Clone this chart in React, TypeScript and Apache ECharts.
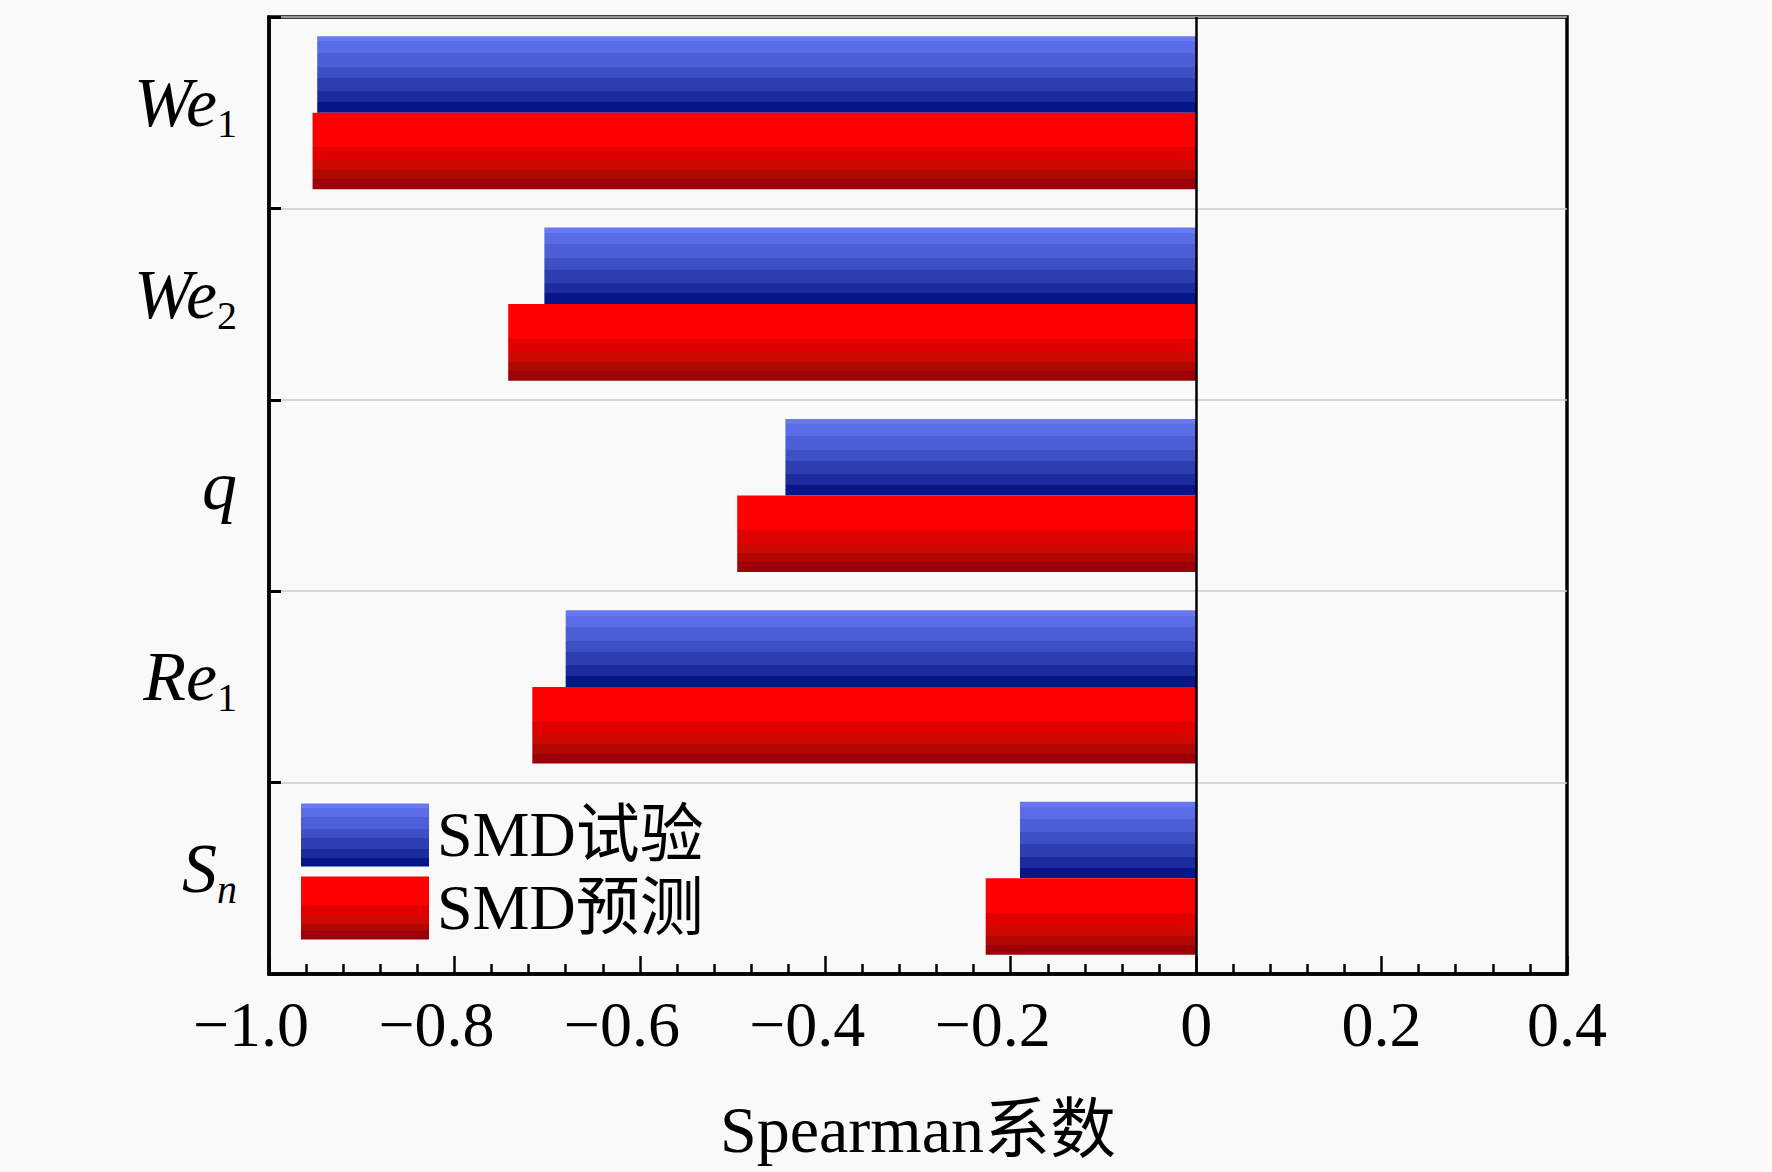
import React, { useEffect, useRef } from "react";
import * as echarts from "echarts";

const categories = ["We1", "We2", "q", "Re1", "Sn"];
const testValues = [-0.948, -0.703, -0.443, -0.68, -0.19];
const predValues = [-0.953, -0.742, -0.495, -0.716, -0.227];
const seriesNames = ["SMD试验", "SMD预测"];
const axisName = "Spearman系数";

const labelRich: Record<string, string> = {
  We1: "{i|We}{s|1}",
  We2: "{i|We}{s|2}",
  q: "{i|q}",
  Re1: "{i|Re}{s|1}",
  Sn: "{i|S}{si|n}",
};

const FONT = "'Liberation Serif', 'Times New Roman', 'Noto Sans CJK SC', serif";

function stepGradient(stops: [number, number, string][]) {
  const colorStops: { offset: number; color: string }[] = [];
  stops.forEach(([a, b, c]) => {
    colorStops.push({ offset: a, color: c });
    colorStops.push({ offset: b, color: c });
  });
  return { type: "linear", x: 0, y: 0, x2: 0, y2: 1, colorStops };
}

const blueGrad = stepGradient([
  [0, 0.07, "#6878f2"],
  [0.07, 0.22, "#5b6de6"],
  [0.22, 0.4, "#4c5fd6"],
  [0.4, 0.55, "#3e50c5"],
  [0.55, 0.72, "#2d3eb0"],
  [0.72, 0.86, "#1c2c9c"],
  [0.86, 1, "#061688"],
]);
const redGrad = stepGradient([
  [0, 0.45, "#ff0000"],
  [0.45, 0.62, "#e00000"],
  [0.62, 0.75, "#cc0800"],
  [0.75, 0.87, "#b00800"],
  [0.87, 1, "#9c0008"],
]);

export default function App() {
  const ref = useRef<HTMLDivElement>(null);
  useEffect(() => {
    if (!ref.current) return;
    const chart = echarts.init(ref.current, undefined, { renderer: "svg" });
    chart.setOption({
      animation: false,
      backgroundColor: "#f9f9f9",
      textStyle: { fontFamily: FONT },
      grid: {
        left: 269,
        right: 205,
        top: 17,
        bottom: 198,
        show: true,
        borderColor: "#000",
        borderWidth: 3.5,
      },
      legend: {
        orient: "vertical",
        left: 296,
        top: 798,
        icon: "rect",
        itemWidth: 128,
        itemHeight: 63,
        itemGap: 9,
        data: seriesNames,
        textStyle: { fontSize: 64, color: "#000", fontFamily: FONT, padding: [0, 0, 0, 3] },
      },
      xAxis: {
        type: "value",
        min: -1,
        max: 0.4,
        interval: 0.2,
        axisLine: { show: true, onZero: false, lineStyle: { color: "#000", width: 3.5 } },
        axisTick: { show: true, inside: true, length: 18, lineStyle: { color: "#000", width: 2.5 } },
        minorTick: { show: true, splitNumber: 5, length: 10, lineStyle: { color: "#000", width: 2.5 } },
        splitLine: { show: false },
        axisLabel: {
          fontSize: 64,
          color: "#000",
          fontFamily: FONT,
          margin: 18,
          formatter: (v: number) => {
            const r = Math.round(v * 10) / 10;
            if (r === 0) return "0";
            if (r < 0) return "{n|\u2212" + Math.abs(r).toFixed(1) + "}";
            return r.toFixed(1);
          },
          rich: {
            n: { fontSize: 64, fontFamily: FONT, color: "#000", padding: [0, 36, 0, 0] },
          },
        },
        name: axisName,
        nameLocation: "middle",
        nameGap: 122,
        nameTextStyle: { fontSize: 66, color: "#000", fontFamily: FONT },
      },
      yAxis: {
        type: "category",
        inverse: true,
        data: categories,
        axisLine: { show: true, onZero: false, lineStyle: { color: "#000", width: 3.5 } },
        axisTick: { show: true, inside: true, length: 12, lineStyle: { color: "#000", width: 3 } },
        splitLine: { show: true, lineStyle: { color: "#c8c8c8", width: 1.5 } },
        axisLabel: {
          margin: 32,
          color: "#000",
          formatter: (v: string) => labelRich[v] || v,
          rich: {
            i: { fontSize: 70, fontStyle: "italic", fontFamily: FONT, color: "#000", padding: [0, 0, 20, 0] },
            s: { fontSize: 40, fontFamily: FONT, color: "#000", padding: [22, 0, 0, 0] },
            si: { fontSize: 40, fontStyle: "italic", fontFamily: FONT, color: "#000", padding: [22, 0, 0, 0] },
          },
        },
      },
      series: [
        {
          name: seriesNames[0],
          type: "bar",
          data: testValues,
          barGap: "0%",
          barCategoryGap: "20%",
          itemStyle: { color: blueGrad },
          markLine: {
            silent: true,
            symbol: "none",
            label: { show: false },
            lineStyle: { color: "#000", width: 2.5, type: "solid" },
            data: [{ xAxis: 0 }],
          },
        },
        {
          name: seriesNames[1],
          type: "bar",
          data: predValues,
          barGap: "0%",
          barCategoryGap: "20%",
          itemStyle: { color: redGrad },
        },
      ],
    });
    return () => chart.dispose();
  }, []);
  return (
    <div
      ref={ref}
      style={{ position: "fixed", left: 0, top: 0, width: 1772, height: 1172 }}
    />
  );
}
